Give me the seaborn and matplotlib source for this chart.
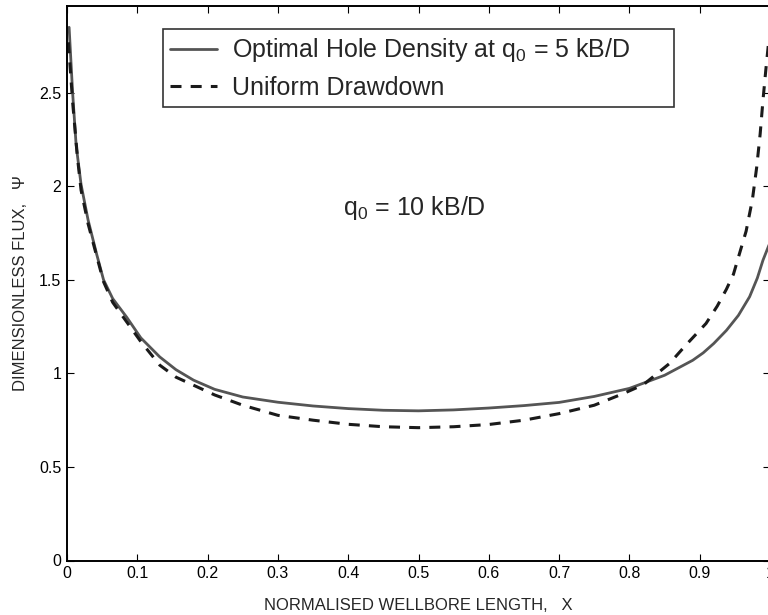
import numpy as np
import pandas as pd
import matplotlib
matplotlib.use("Agg")
import matplotlib.pyplot as plt
import seaborn as sns

# ---- data ----
optimal_x = [0.003, 0.008, 0.013, 0.017, 0.020, 0.030, 0.042, 0.052, 0.065, 0.085,
             0.105, 0.132, 0.155, 0.180, 0.210, 0.250, 0.300, 0.350, 0.400, 0.450,
             0.500, 0.550, 0.600, 0.650, 0.700, 0.750, 0.800, 0.850, 0.890, 0.905,
             0.920, 0.938, 0.955, 0.971, 0.982, 0.990, 1.000]
optimal_y = [2.85, 2.50, 2.22, 2.10, 2.01, 1.82, 1.64, 1.50, 1.40, 1.30,
             1.19, 1.088, 1.02, 0.964, 0.915, 0.874, 0.846, 0.826, 0.812, 0.803,
             0.800, 0.805, 0.815, 0.828, 0.845, 0.877, 0.920, 0.990, 1.070, 1.110,
             1.160, 1.230, 1.310, 1.410, 1.510, 1.605, 1.700]

uniform_x = [0.002, 0.008, 0.015, 0.020, 0.030, 0.042, 0.052, 0.065, 0.085, 0.105,
             0.132, 0.155, 0.180, 0.210, 0.250, 0.300, 0.350, 0.400, 0.450, 0.500,
             0.550, 0.600, 0.650, 0.700, 0.750, 0.790, 0.820, 0.857, 0.880, 0.909,
             0.925, 0.938, 0.948, 0.955, 0.966, 0.975, 0.981, 0.986, 0.990, 0.994,
             0.998]
uniform_y = [2.77, 2.45, 2.15, 1.98, 1.80, 1.63, 1.49, 1.38, 1.275, 1.17,
             1.044, 0.980, 0.937, 0.885, 0.830, 0.776, 0.750, 0.728, 0.715, 0.710,
             0.715, 0.727, 0.750, 0.785, 0.830, 0.890, 0.940, 1.053, 1.150, 1.267,
             1.360, 1.450, 1.530, 1.620, 1.760, 1.930, 2.100, 2.280, 2.460, 2.620,
             2.770]

series_labels = ["Optimal Hole Density at q$_0$ = 5 kB/D      ", "Uniform Drawdown"]
annotation = "q$_0$ = 10 kB/D"
x_ticks = [0, 0.1, 0.2, 0.3, 0.4, 0.5, 0.6, 0.7, 0.8, 0.9, 1.0]
x_tick_labels = ["0", "0.1", "0.2", "0.3", "0.4", "0.5", "0.6", "0.7", "0.8", "0.9", "1"]
y_ticks = [0, 0.5, 1.0, 1.5, 2.0, 2.5]
y_tick_labels = ["0", "0.5", "1", "1.5", "2", "2.5"]
x_label = "NORMALISED WELLBORE LENGTH,   X"
y_label = "DIMENSIONLESS FLUX,   \u03a8"

df_opt = pd.DataFrame({"x": optimal_x, "y": optimal_y})
df_uni = pd.DataFrame({"x": uniform_x, "y": uniform_y})

# ---- style ----
sns.set_style("ticks")
plt.rcParams["font.family"] = ["Liberation Sans", "DejaVu Sans"]
plt.rcParams["mathtext.fontset"] = "custom"
plt.rcParams["mathtext.rm"] = "Liberation Sans"
plt.rcParams["mathtext.it"] = "Liberation Sans:italic"
plt.rcParams["mathtext.default"] = "regular"

fig = plt.figure(figsize=(7.68, 6.15), dpi=100)
ax = fig.add_axes([67 / 768, 1 - 560.5 / 615, 703 / 768, 554.5 / 615])

sns.lineplot(data=df_opt, x="x", y="y", ax=ax, sort=False, estimator=None,
             color="#555555", lw=2.0, label=series_labels[0])
sns.lineplot(data=df_uni, x="x", y="y", ax=ax, sort=False, estimator=None,
             color="#1a1a1a", lw=2.2, label=series_labels[1])
ax.lines[1].set_dashes((3.6, 3.0))

ax.set_xlim(0, 1)
ax.set_ylim(0, 2.964)
ax.set_xticks(x_ticks)
ax.set_xticklabels(x_tick_labels)
ax.set_yticks(y_ticks)
ax.set_yticklabels(y_tick_labels)
ax.tick_params(direction="in", top=True, right=True, length=5, width=0.8,
               labelsize=11.5, pad=4, colors="black")
for s in ax.spines.values():
    s.set_linewidth(1.4)
    s.set_color("black")

ax.set_xlabel(x_label, fontsize=12, labelpad=12)
ax.set_ylabel(y_label, fontsize=12, labelpad=8)

ax.text(0.392, 1.846, annotation, fontsize=18, ha="left", va="baseline",
        transform=ax.transData)

leg = ax.legend(loc="upper left", bbox_to_anchor=(162.7 / 768, 1 - 29.3 / 615),
                bbox_transform=fig.transFigure, fontsize=18, frameon=True,
                fancybox=False, borderaxespad=0, handlelength=1.9,
                handletextpad=0.6, labelspacing=0.45, borderpad=0.28)
leg.get_frame().set_edgecolor("black")
leg.get_frame().set_linewidth(1.2)
leg.get_lines()[1].set_dashes((3.6, 3.0))

fig.savefig("out.png", dpi=100)
